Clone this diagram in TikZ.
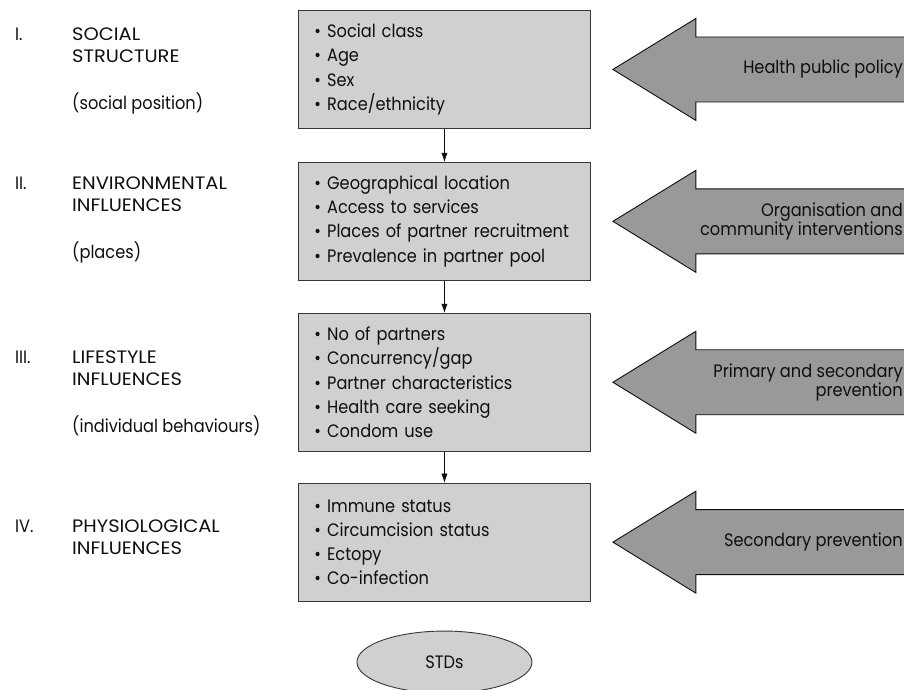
\documentclass[tikz,border=0pt]{standalone}
\usepackage{fontspec}
\setmainfont{Poppins}[FakeStretch=0.9]
\newfontfamily\headfont{Poppins}[FakeStretch=1.08]
\usepackage{tikz}
\usetikzlibrary{positioning,arrows.meta,shapes.geometric}
\definecolor{boxgray}{RGB}{208,208,208}
\definecolor{arrowgray}{RGB}{153,153,153}
\definecolor{linegray}{RGB}{55,55,55}
\definecolor{inkgray}{RGB}{15,15,15}

\begin{document}
\begin{tikzpicture}[x=1pt,y=-1pt,>={Latex[length=9pt,width=6pt]},node distance=33pt,
	factor/.style={draw=linegray,fill=boxgray,line width=0.9pt,text=inkgray,minimum width=292pt,minimum height=118pt,
		text width=260pt,align=left,inner xsep=16pt,inner ysep=0pt,font=\fontsize{18}{24.2}\selectfont},
	level/.style={anchor=north west,inner sep=0pt,align=left,text=inkgray,font=\fontsize{18}{22}\selectfont},
	policy/.style={draw=inkgray,fill=arrowgray,line width=0.9pt},
	policytext/.style={anchor=east,align=right,inner sep=0pt,text=inkgray,font=\fontsize{18}{19.5}\selectfont},
	outcome/.style={ellipse,draw=linegray,fill=boxgray,line width=0.9pt,text=inkgray,minimum width=175pt,minimum height=62pt,
		inner sep=0pt,font=\fontsize{18}{20}\selectfont}]
	\useasboundingbox (0,0) rectangle (904,689);

	% the four levels
	\node[factor,anchor=north west] (b1) at (298,10) {\textbullet\ Social class\\\textbullet\ Age\\\textbullet\ Sex\\\textbullet\ Race/ethnicity};
	\node[factor] (b2) [below=of b1] {\textbullet\ Geographical location\\\textbullet\ Access to services\\\textbullet\ Places of partner recruitment\\\textbullet\ Prevalence in partner pool};
	\node[factor,minimum height=138pt] (b3) [below=32pt of b2] {\textbullet\ No of partners\\\textbullet\ Concurrency/gap\\\textbullet\ Partner characteristics\\\textbullet\ Health care seeking\\\textbullet\ Condom use};
	\node[factor] (b4) [below=31pt of b3] {\textbullet\ Immune status\\\textbullet\ Circumcision status\\\textbullet\ Ectopy\\\textbullet\ Co-infection};
	\node[outcome] (std) [below=29pt of b4] {STDs};

	\draw[->,inkgray] (b1) -- (b2);
	\draw[->,inkgray] (b2) -- (b3);
	\draw[->,inkgray] (b3) -- (b4);

	% labels on the left
	\node[level] (n1) at (15,28) {I.};
	\node[level] (l1) at (72,28) {{\headfont SOCIAL}\\{\headfont STRUCTURE}\\[25pt](social position)};
	\node[level] (n2) at (15,177) {II.};
	\node[level] (l2) at (72,177) {{\headfont ENVIRONMENTAL}\\{\headfont INFLUENCES}\\[25pt](places)};
	\node[level] (n3) at (15,351) {III.};
	\node[level] (l3) at (72,351) {{\headfont LIFESTYLE}\\{\headfont INFLUENCES}\\[25pt](individual behaviours)};
	\node[level] (n4) at (15,520) {IV.};
	\node[level] (l4) at (72,520) {{\headfont PHYSIOLOGICAL}\\{\headfont INFLUENCES}};

	% interventions
	\foreach \b/\t in {b1/{Health public policy},b2/{Organisation and\\community interventions},
		b3/{Primary and secondary\\prevention},b4/{Secondary prevention}}{
		\draw[policy] ([xshift=22pt]\b.east) -- ++(83,-51) -- ++(0,18.5) -- ++(230,0) -- ++(0,65)
			-- ++(-230,0) -- ++(0,18.5) -- cycle;
		\node[policytext] at ([xshift=312pt]\b.east) {\t};
	}
\end{tikzpicture}
\end{document}
